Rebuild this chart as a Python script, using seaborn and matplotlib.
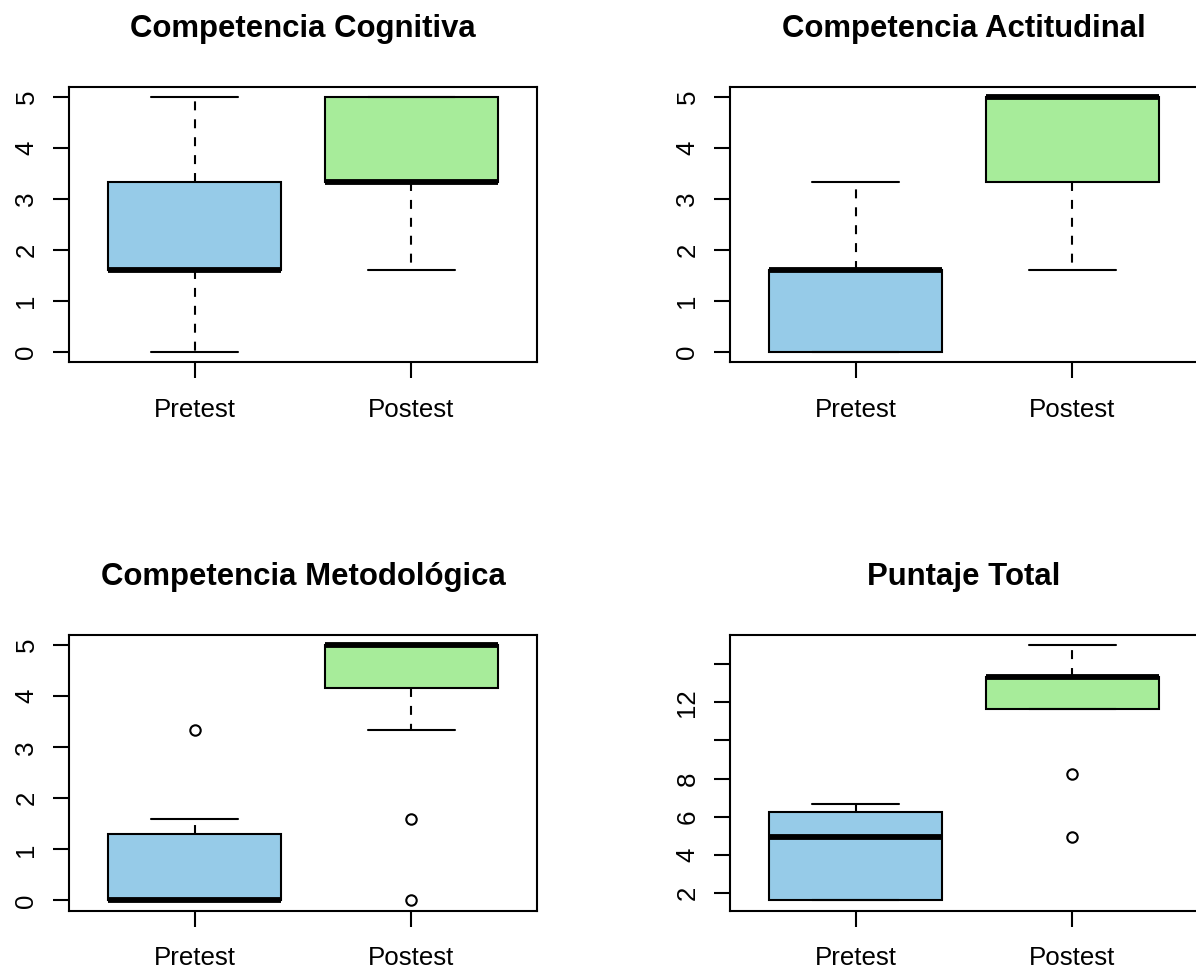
import matplotlib
matplotlib.use("Agg")
import matplotlib.pyplot as plt
import pandas as pd
import seaborn as sns

# ---------------- data ----------------
grupos = ["Pretest", "Postest"]
colores = ["#96CBE8", "#A7EC9A"]

titulos = ["Competencia Cognitiva", "Competencia Actitudinal",
           "Competencia Metodológica", "Puntaje Total"]

cognitiva_pre = [0, 1.6, 1.6, 1.6, 1.6, 1.6, 3.33, 3.33, 3.33, 3.33, 5]
cognitiva_post = [1.6, 3.33, 3.33, 3.33, 3.33, 3.33, 3.33, 5, 5, 5, 5]

actitudinal_pre = [0, 0, 0, 0, 1.6, 1.6, 1.6, 1.6, 1.6, 1.6, 3.33]
actitudinal_post = [1.6, 3.33, 3.33, 3.33, 5, 5, 5, 5, 5, 5, 5]

metodologica_pre = [0, 0, 0, 0, 0, 0, 0, 1.3, 1.3, 1.6, 3.33]
metodologica_post = [0, 1.6, 3.33, 5, 5, 5, 5, 5, 5, 5, 5]

total_pre = [1.6, 1.6, 1.6, 1.6, 3.33, 4.93, 4.93, 5.8, 6.67, 6.67, 6.67]
total_post = [4.93, 8.25, 11.65, 11.65, 13.33, 13.33, 13.33, 13.33, 13.33, 13.33, 15]

yticks_comp = [0, 1, 2, 3, 4, 5]
yticklabels_comp = ["0", "1", "2", "3", "4", "5"]
yticks_total = [2, 4, 6, 8, 10, 12, 14]
yticklabels_total = ["2", "4", "6", "8", "", "12", ""]

paneles = [
    (titulos[0], cognitiva_pre, cognitiva_post, yticks_comp, yticklabels_comp),
    (titulos[1], actitudinal_pre, actitudinal_post, yticks_comp, yticklabels_comp),
    (titulos[2], metodologica_pre, metodologica_post, yticks_comp, yticklabels_comp),
    (titulos[3], total_pre, total_post, yticks_total, yticklabels_total),
]

# ---------------- style ----------------
sns.set_theme(style="ticks")
plt.rcParams["font.family"] = ["Liberation Sans", "DejaVu Sans"]
plt.rcParams["text.color"] = "black"
plt.rcParams["xtick.color"] = "black"
plt.rcParams["ytick.color"] = "black"
plt.rcParams["axes.edgecolor"] = "black"

W, H = 1196, 968
fig = plt.figure(figsize=(W / 100, H / 100), dpi=100)

# axes boxes in pixel coordinates (left, top, right, bottom)
cajas = [(69, 86.7, 537, 362.3), (730, 86.7, 1198, 362.3),
         (69, 635, 537, 910.6), (730, 635, 1198, 910.6)]

for (titulo, pre, post, yt, ytl), (x0, y0, x1, y1) in zip(paneles, cajas):
    ax = fig.add_axes([x0 / W, 1 - y1 / H, (x1 - x0) / W, (y1 - y0) / H])
    df = pd.DataFrame({
        "Prueba": ["Pretest"] * len(pre) + ["Postest"] * len(post),
        "Puntaje": pre + post,
    })
    sns.boxplot(
        data=df, x="Prueba", y="Puntaje", hue="Prueba",
        order=grupos, hue_order=grupos, palette=colores, saturation=1,
        width=0.8, whis=1.5, linecolor="black", linewidth=1.5,
        legend=False, ax=ax,
        whiskerprops=dict(linestyle=(0, (4.3, 4.3)), linewidth=1.5),
        medianprops=dict(linewidth=4.2, solid_capstyle="butt"),
        capprops=dict(linewidth=1.5),
        flierprops=dict(marker="o", markerfacecolor="none",
                        markeredgecolor="black", markersize=7.5,
                        markeredgewidth=1.5),
    )
    todos = pre + post
    lo, hi = min(todos), max(todos)
    ext = 0.04 * (hi - lo)
    ax.set_ylim(lo - ext, hi + ext)
    ax.set_xlim(-0.58, 1.58)
    ax.set_xticks([0, 1])
    ax.set_xticklabels(grupos)
    ax.set_yticks(yt)
    ax.set_yticklabels(ytl)
    ax.set_xlabel("")
    ax.set_ylabel("")
    for s in ax.spines.values():
        s.set_visible(True)
        s.set_linewidth(1.5)
        s.set_color("black")
    ax.tick_params(axis="both", direction="out", length=11.5, width=1.5,
                   labelsize=18.6, colors="black")
    ax.tick_params(axis="x", pad=14)
    ax.tick_params(axis="y", pad=10.5)
    for lab in ax.get_yticklabels():
        lab.set_rotation(90)
        lab.set_va("center")
    ax.set_title(titulo, fontsize=22.4, fontweight="bold", pad=35.8,
                 color="black")

fig.savefig("out.png", dpi=100)
